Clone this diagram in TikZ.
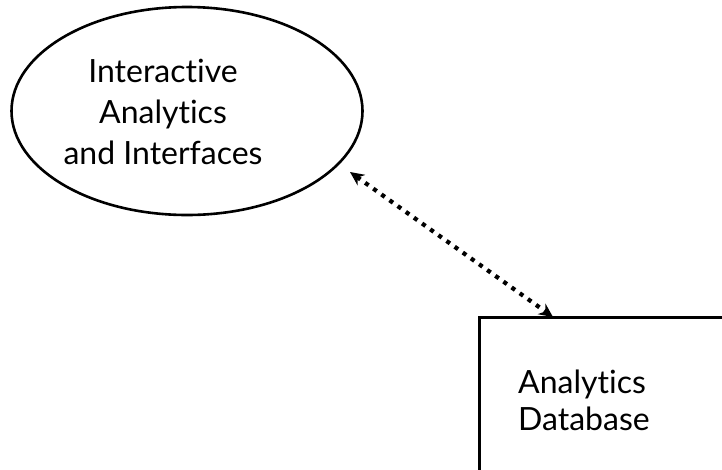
\documentclass[tikz,border=0pt]{standalone}
\usepackage{fontspec}
\setmainfont{Lato}[Ligatures={NoCommon}]
\usetikzlibrary{shapes.geometric,arrows.meta}
\begin{document}
\begin{tikzpicture}[x=1pt,y=-1pt,
  shapeline/.style={draw=black, line width=2.6pt},
  lbl/.style={inner sep=0pt, text=black},
  dotarrow/.style={line width=4.2pt, dash pattern=on 4.2pt off 5.8pt,
    {Stealth[length=14pt,width=13pt]}-{Stealth[length=14pt,width=13pt]}}]
\useasboundingbox (0,0) rectangle (722,469);
\node[ellipse, shapeline, minimum width=351pt, minimum height=208pt, inner sep=0pt] (e) at (187,111) {};
\node[lbl, align=center, font=\fontsize{32}{41}\selectfont] (et) at (163,112) {Interactive\\Analytics\\and Interfaces};
\begin{scope}
\clip (0,0) rectangle (722,469);
\node[shapeline, rectangle, minimum width=300pt, minimum height=220pt, anchor=north west, inner sep=0pt] (db) at (478,316) {};
\end{scope}
\node[lbl, align=left, anchor=west, font=\fontsize{32}{37}\selectfont] (dt) at (518,400) {Analytics\\Database};
\coordinate (a1) at (350,172);
\coordinate (a2) at (553,317);
\draw[dotarrow] (a1) -- (a2);
\end{tikzpicture}
\end{document}
